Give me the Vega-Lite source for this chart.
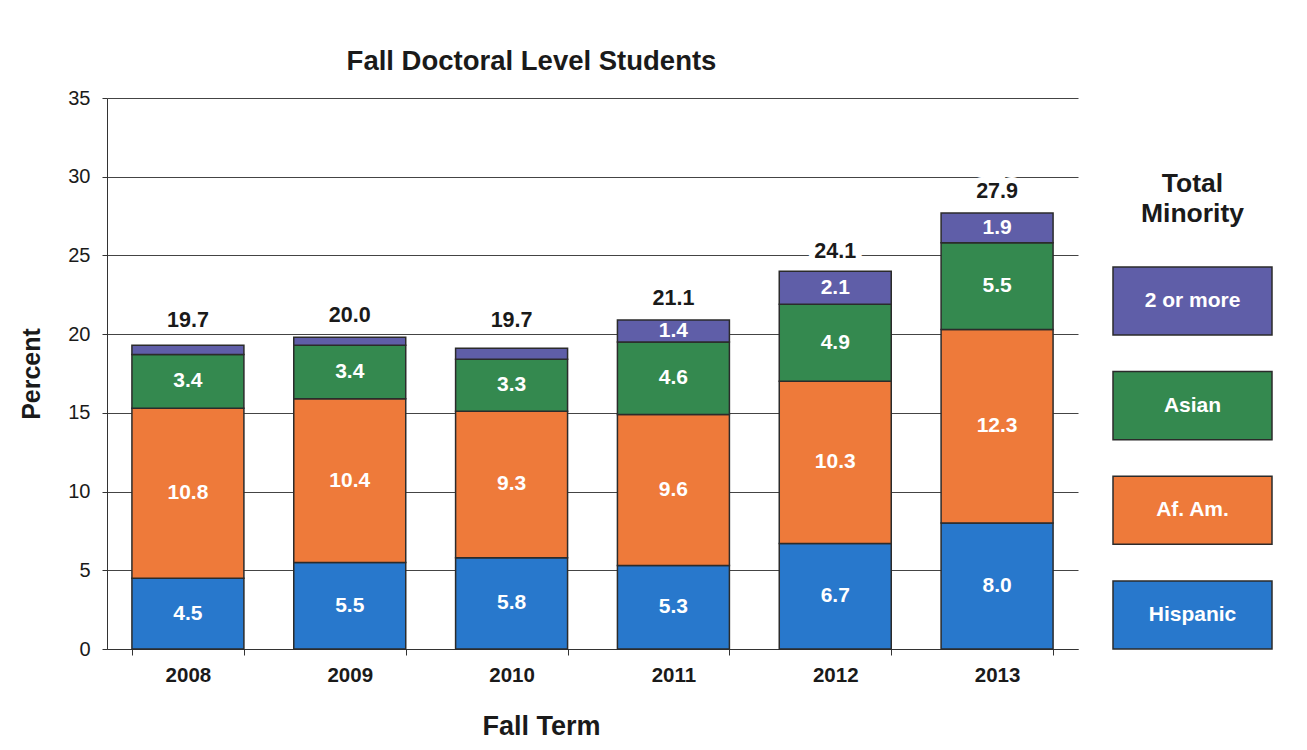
{
  "$schema": "https://vega.github.io/schema/vega-lite/v6.json",
  "background": "white",
  "padding": {"left": 19, "top": 47, "right": 5, "bottom": 5},
  "bounds": "flush",
  "spacing": 35,
  "config": {"font": "Liberation Sans", "view": {"stroke": null}},
  "datasets": {
    "seg": [
      {"year": "2008", "cat": "Hispanic", "value": 4.5},
      {"year": "2008", "cat": "Af. Am.", "value": 10.8},
      {"year": "2008", "cat": "Asian", "value": 3.4},
      {"year": "2008", "cat": "2 or more", "value": 0.6},
      {"year": "2009", "cat": "Hispanic", "value": 5.5},
      {"year": "2009", "cat": "Af. Am.", "value": 10.4},
      {"year": "2009", "cat": "Asian", "value": 3.4},
      {"year": "2009", "cat": "2 or more", "value": 0.5},
      {"year": "2010", "cat": "Hispanic", "value": 5.8},
      {"year": "2010", "cat": "Af. Am.", "value": 9.3},
      {"year": "2010", "cat": "Asian", "value": 3.3},
      {"year": "2010", "cat": "2 or more", "value": 0.7},
      {"year": "2011", "cat": "Hispanic", "value": 5.3},
      {"year": "2011", "cat": "Af. Am.", "value": 9.6},
      {"year": "2011", "cat": "Asian", "value": 4.6},
      {"year": "2011", "cat": "2 or more", "value": 1.4},
      {"year": "2012", "cat": "Hispanic", "value": 6.7},
      {"year": "2012", "cat": "Af. Am.", "value": 10.3},
      {"year": "2012", "cat": "Asian", "value": 4.9},
      {"year": "2012", "cat": "2 or more", "value": 2.1},
      {"year": "2013", "cat": "Hispanic", "value": 8.0},
      {"year": "2013", "cat": "Af. Am.", "value": 12.3},
      {"year": "2013", "cat": "Asian", "value": 5.5},
      {"year": "2013", "cat": "2 or more", "value": 1.9}
    ],
    "totals": [
      {"year": "2008", "total": 19.7},
      {"year": "2009", "total": 20.0},
      {"year": "2010", "total": 19.7},
      {"year": "2011", "total": 21.1},
      {"year": "2012", "total": 24.1},
      {"year": "2013", "total": 27.9}
    ],
    "cats": [
      {"cat": "2 or more"},
      {"cat": "Asian"},
      {"cat": "Af. Am."},
      {"cat": "Hispanic"}
    ]
  },
  "hconcat": [
    {
      "width": 971,
      "height": 551,
      "title": {"text": "Fall Doctoral Level Students", "fontSize": 27.5, "fontWeight": "bold", "color": "#1a1a1a", "dx": -61, "offset": 13},
      "layer": [
        {
          "data": {"name": "seg"},
          "transform": [
            {"calculate": "indexof(['Hispanic','Af. Am.','Asian','2 or more'], datum.cat)", "as": "rank"},
            {"stack": "value", "groupby": ["year"], "sort": [{"field": "rank", "order": "ascending"}], "as": ["v0", "v1"]}
          ],
          "mark": {"type": "bar", "stroke": "#2b2b2b", "strokeWidth": 1.5},
          "encoding": {
            "x": {
              "field": "year", "type": "nominal",
              "scale": {"paddingInner": 0.308, "paddingOuter": 0.154},
              "axis": {
                "title": "Fall Term", "titleFontSize": 27, "titleFontWeight": "bold", "titleColor": "#1a1a1a",
                "titlePadding": 28, "titleX": 434,
                "labelAngle": 0, "labelFontSize": 20.5, "labelFontWeight": "bold", "labelColor": "#1a1a1a", "labelPadding": 10,
                "tickBand": "extent", "tickSize": 6, "tickColor": "#333", "domainColor": "#333"
              }
            },
            "y": {
              "field": "v0", "type": "quantitative",
              "scale": {"domain": [0, 35]},
              "axis": {
                "values": [0, 5, 10, 15, 20, 25, 30, 35],
                "title": "Percent", "titleFontSize": 25, "titleFontWeight": "bold", "titleColor": "#1a1a1a", "titlePadding": 23,
                "labelFontSize": 20, "labelColor": "#1a1a1a", "labelPadding": 12,
                "tickSize": 5, "tickColor": "#333", "domainColor": "#333",
                "gridColor": "#444", "gridWidth": 1
              }
            },
            "y2": {"field": "v1"},
            "color": {
              "field": "cat", "type": "nominal",
              "scale": {"domain": ["Hispanic", "Af. Am.", "Asian", "2 or more"], "range": ["#2878CC", "#EE7A3A", "#34894F", "#5F5EA8"]},
              "legend": null
            }
          }
        },
        {
          "data": {"name": "seg"},
          "transform": [
            {"calculate": "indexof(['Hispanic','Af. Am.','Asian','2 or more'], datum.cat)", "as": "rank"},
            {"stack": "value", "groupby": ["year"], "sort": [{"field": "rank", "order": "ascending"}], "as": ["v0", "v1"]},
            {"calculate": "(datum.v0 + datum.v1) / 2", "as": "mid"},
            {"filter": "datum.value >= 1"}
          ],
          "mark": {"type": "text", "color": "white", "fontSize": 21, "fontWeight": "bold"},
          "encoding": {
            "x": {"field": "year", "type": "nominal"},
            "y": {"field": "mid", "type": "quantitative"},
            "text": {"field": "value", "type": "quantitative", "format": ".1f"}
          }
        },
        {
          "data": {"name": "totals"},
          "mark": {"type": "text", "fill": "white", "stroke": "white", "strokeWidth": 12, "fontSize": 21.5, "fontWeight": "bold", "dy": -18},
          "encoding": {
            "x": {"field": "year", "type": "nominal"},
            "y": {"field": "total", "type": "quantitative"},
            "text": {"field": "total", "type": "quantitative", "format": ".1f"}
          }
        },
        {
          "data": {"name": "totals"},
          "mark": {"type": "text", "color": "#1a1a1a", "fontSize": 21.5, "fontWeight": "bold", "dy": -18},
          "encoding": {
            "x": {"field": "year", "type": "nominal"},
            "y": {"field": "total", "type": "quantitative"},
            "text": {"field": "total", "type": "quantitative", "format": ".1f"}
          }
        }
      ]
    },
    {
      "width": 159,
      "height": 551,
      "data": {"name": "cats"},
      "title": {"text": ["Total", "Minority"], "fontSize": 26.5, "fontWeight": "bold", "color": "#1a1a1a", "lineHeight": 30, "offset": -129},
      "layer": [
        {
          "mark": {"type": "bar", "stroke": "#2b2b2b", "strokeWidth": 1.5},
          "encoding": {
            "y": {
              "field": "cat", "type": "nominal",
              "sort": ["2 or more", "Asian", "Af. Am.", "Hispanic"],
              "scale": {"paddingInner": 0.35, "paddingOuter": 0.807, "align": 1},
              "axis": null
            },
            "color": {"field": "cat", "type": "nominal", "legend": null}
          }
        },
        {
          "mark": {"type": "text", "color": "white", "fontSize": 21, "fontWeight": "bold"},
          "encoding": {
            "y": {"field": "cat", "type": "nominal", "sort": ["2 or more", "Asian", "Af. Am.", "Hispanic"]},
            "text": {"field": "cat", "type": "nominal"}
          }
        }
      ]
    }
  ]
}
